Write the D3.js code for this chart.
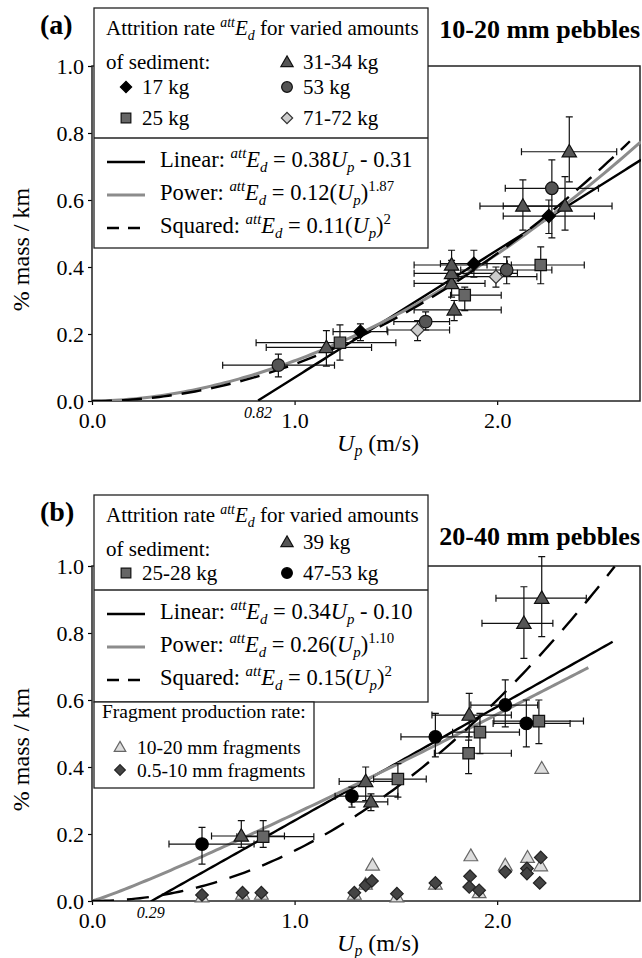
<!DOCTYPE html>
<html>
<head>
<meta charset="utf-8">
<script src="https://cdn.jsdelivr.net/npm/d3@7"></script>
<style>
  html, body { margin: 0; padding: 0; background: #fff; }
  svg, svg text { font-family: "Liberation Serif", "DejaVu Serif", "Noto Serif", "Times New Roman", Times, serif; }
  text { white-space: pre; }
</style>
</head>
<body>
<div id="chart"></div>
<script>
// ---- data: u = Up (m/s), e = %mass/km, with error ranges ----
// panel (a) 10-20 mm pebbles
const a17kg = [
  { u: 1.325, e: 0.207, u0: 1.19, u1: 1.46, e0: 0.18, e1: 0.23 },
  { u: 1.885, e: 0.410, u0: 1.72, u1: 2.05, e0: 0.37, e1: 0.45 },
  { u: 2.255, e: 0.552, u0: 2.03, u1: 2.48, e0: 0.50, e1: 0.60 }
];
const a25kg = [
  { u: 1.224, e: 0.174, u0: 0.81, u1: 1.50, e0: 0.122, e1: 0.227 },
  { u: 1.840, e: 0.316, u0: 1.77, u1: 2.02, e0: 0.27, e1: 0.34 },
  { u: 2.215, e: 0.406, u0: 2.07, u1: 2.43, e0: 0.35, e1: 0.46 }
];
const a31kg = [
  { u: 1.157, e: 0.160, u0: 0.86, u1: 1.38, e0: 0.104, e1: 0.21 },
  { u: 1.788, e: 0.272, u0: 1.59, u1: 2.02, e0: 0.24, e1: 0.30 },
  { u: 1.775, e: 0.351, u0: 1.59, u1: 1.94, e0: 0.31, e1: 0.39 },
  { u: 1.775, e: 0.381, u0: 1.59, u1: 2.10, e0: 0.34, e1: 0.42 },
  { u: 1.775, e: 0.406, u0: 1.59, u1: 1.95, e0: 0.37, e1: 0.45 },
  { u: 2.127, e: 0.582, u0: 1.915, u1: 2.34, e0: 0.51, e1: 0.66 },
  { u: 2.335, e: 0.582, u0: 2.03, u1: 2.567, e0: 0.51, e1: 0.67 },
  { u: 2.356, e: 0.744, u0: 2.12, u1: 2.59, e0: 0.654, e1: 0.848 }
];
const a53kg = [
  { u: 0.920, e: 0.107, u0: 0.645, u1: 1.197, e0: 0.072, e1: 0.14 },
  { u: 1.647, e: 0.237, u0: 1.49, u1: 1.765, e0: 0.212, e1: 0.266 },
  { u: 2.047, e: 0.391, u0: 1.82, u1: 2.27, e0: 0.35, e1: 0.43 },
  { u: 2.270, e: 0.635, u0: 2.04, u1: 2.50, e0: 0.487, e1: 0.72 }
];
const a71kg = [
  { u: 1.607, e: 0.212, u0: 1.456, u1: 1.765, e0: 0.18, e1: 0.24 },
  { u: 1.994, e: 0.371, u0: 1.757, u1: 2.196, e0: 0.34, e1: 0.40 }
];
// panel (b) 20-40 mm pebbles
const b25kg = [
  { u: 0.845, e: 0.192, u0: 0.715, u1: 1.095, e0: 0.16, e1: 0.24 },
  { u: 1.510, e: 0.364, u0: 1.39, u1: 1.65, e0: 0.31, e1: 0.41 },
  { u: 1.859, e: 0.441, u0: 1.69, u1: 2.07, e0: 0.38, e1: 0.48 },
  { u: 1.915, e: 0.504, u0: 1.78, u1: 2.11, e0: 0.44, e1: 0.56 },
  { u: 2.206, e: 0.537, u0: 1.984, u1: 2.426, e0: 0.47, e1: 0.60 }
];
const b39kg = [
  { u: 0.737, e: 0.194, u0: 0.59, u1: 0.95, e0: 0.16, e1: 0.24 },
  { u: 1.351, e: 0.357, u0: 1.22, u1: 1.50, e0: 0.30, e1: 0.40 },
  { u: 1.377, e: 0.296, u0: 1.28, u1: 1.46, e0: 0.27, e1: 0.32 },
  { u: 1.862, e: 0.555, u0: 1.678, u1: 2.07, e0: 0.49, e1: 0.62 },
  { u: 2.132, e: 0.829, u0: 1.925, u1: 2.275, e0: 0.724, e1: 0.938 },
  { u: 2.220, e: 0.904, u0: 1.994, u1: 2.44, e0: 0.789, e1: 1.028 }
];
const b47kg = [
  { u: 0.543, e: 0.170, u0: 0.38, u1: 0.80, e0: 0.11, e1: 0.22 },
  { u: 1.283, e: 0.313, u0: 1.20, u1: 1.51, e0: 0.28, e1: 0.34 },
  { u: 1.695, e: 0.490, u0: 1.525, u1: 1.86, e0: 0.43, e1: 0.56 },
  { u: 2.040, e: 0.585, u0: 1.87, u1: 2.20, e0: 0.52, e1: 0.66 },
  { u: 2.144, e: 0.530, u0: 1.98, u1: 2.36, e0: 0.46, e1: 0.60 }
];
const bFrag1020 = [
  [0.543, 0.012], [0.743, 0.02], [0.836, 0.02], [1.295, 0.02], [1.35, 0.05],
  [1.385, 0.107], [1.505, 0.012], [1.695, 0.05], [1.87, 0.135], [1.911, 0.025],
  [2.04, 0.107], [2.15, 0.13], [2.215, 0.105], [2.22, 0.396]
];
const bFrag0510 = [
  [0.543, 0.018], [0.743, 0.025], [0.836, 0.025], [1.295, 0.025], [1.351, 0.047],
  [1.382, 0.06], [1.505, 0.022], [1.695, 0.054], [1.866, 0.074], [1.862, 0.042],
  [1.911, 0.032], [2.04, 0.087], [2.147, 0.097], [2.147, 0.082], [2.215, 0.13], [2.21, 0.054]
];
// fitted curves (coefficients from the legends): E = k * U^p + c over [from, to]
const aFits = [
  { name: "Linear", k: 0.38, p: 1, c: -0.31, from: 0.82, to: 2.71 },
  { name: "Power", k: 0.12, p: 1.87, c: 0, from: 0, to: 2.71 },
  { name: "Squared", k: 0.11, p: 2, c: 0, from: 0, to: 2.655 }
];
const bFits = [
  { name: "Linear", k: 0.34, p: 1, c: -0.10, from: 0.29, to: 2.57 },
  { name: "Power", k: 0.26, p: 1.10, c: 0, from: 0, to: 2.45 },
  { name: "Squared", k: 0.15, p: 2, c: 0, from: 0, to: 2.58 }
];
const yTicks = [0, 0.2, 0.4, 0.6, 0.8, 1.0];
const xTicks = [0, 1, 2];

// ---- drawing ----
const W = 642, H = 958;
const FONT = "'Liberation Serif', 'DejaVu Serif', 'Times New Roman', serif";
const svg = d3.select("#chart").append("svg").attr("width", W).attr("height", H)
  .attr("font-family", FONT);

const x = d3.scaleLinear().domain([0, 2.71]).range([92, 641]);

const sym = {
  tri: d3.symbol().type(d3.symbolTriangle).size(90),
  sq: d3.symbol().type(d3.symbolSquare).size(130),
  circ: d3.symbol().type(d3.symbolCircle).size(125),
  dia: d3.symbol().type(d3.symbolSquare).size(88)
};
const styles = {
  d17: { s: "dia", fill: "#000", stroke: "#000" },
  sq: { s: "sq", fill: "#666", stroke: "#111" },
  tri: { s: "tri", fill: "#555", stroke: "#111" },
  c53: { s: "circ", fill: "#555", stroke: "#111" },
  c47: { s: "circ", fill: "#000", stroke: "#000" },
  d71: { s: "dia", fill: "#ccc", stroke: "#333" },
  fTri: { s: "tri", fill: "#ddd", stroke: "#666" },
  fDia: { s: "dia", fill: "#444", stroke: "#222" }
};

function marker(g, cx, cy, st, scale) {
  const gen = sym[st.s];
  const k = scale || 1;
  const rot = st.s === "dia" ? " rotate(45)" : "";
  const dy = st.s === "tri" ? 1 : 0;
  g.append("path")
    .attr("d", gen())
    .attr("transform", `translate(${cx},${cy + dy}) scale(${k})${rot}`)
    .attr("fill", st.fill)
    .attr("stroke", st.stroke)
    .attr("stroke-width", 1.2 / k);
}

// text with italic / super / subscript parts
function rich(g, tx, ty, parts, size, extra) {
  const t = g.append("text").attr("x", tx).attr("y", ty).attr("font-size", size)
    .attr("font-family", FONT);
  if (extra) extra(t);
  let shift = 0;
  parts.forEach((p) => {
    const target = p.s === "sup" ? -0.38 * size : p.s === "sub" ? 0.22 * size : 0;
    t.append("tspan")
      .attr("dy", target - shift)
      .attr("font-style", p.i ? "italic" : null)
      .attr("font-size", p.s ? size * 0.66 : null)
      .text(p.t);
    shift = target;
  });
  return t;
}
const attE = [{ t: "att", i: 1, s: "sup" }, { t: "E", i: 1 }, { t: "d", i: 1, s: "sub" }];
const Up = [{ t: "U", i: 1 }, { t: "p", i: 1, s: "sub" }];

function panel(cfg) {
  const g = svg.append("g");
  const y = d3.scaleLinear().domain([0, 1]).range([cfg.bottom, cfg.top]);

  // axes
  const ya = g.append("g").attr("transform", `translate(${x(0)},0)`)
    .call(d3.axisLeft(y).tickValues(yTicks).tickFormat(d3.format(".1f")).tickSize(4).tickPadding(4));
  const xa = g.append("g").attr("transform", `translate(0,${cfg.bottom})`)
    .call(d3.axisBottom(x).tickValues(xTicks).tickFormat(d3.format(".1f")).tickSize(4).tickPadding(6));
  [ya, xa].forEach((a) => {
    a.attr("font-family", FONT).attr("font-size", 22);
    a.select(".domain").remove();
    a.selectAll("text").attr("fill", "#000");
    a.selectAll("line").attr("stroke", "#000").attr("stroke-width", 1.2);
  });
  xa.selectAll("text").attr("dy", "0.78em");

  g.append("rect")
    .attr("x", x(0)).attr("y", y(1))
    .attr("width", x(2.71) - x(0) - 1).attr("height", y(0) - y(1))
    .attr("fill", "none").attr("stroke", "#222").attr("stroke-width", 1.5);

  // intercept label
  g.append("text").attr("x", x(cfg.icpt)).attr("y", cfg.bottom + 17)
    .attr("text-anchor", "middle").attr("font-size", 16).attr("font-style", "italic")
    .text(cfg.icpt.toFixed(2));

  // axis titles
  rich(g, 0, 0, [{ t: "U", i: 1 }, { t: "p", i: 1, s: "sub" }, { t: " (m/s)" }], 24,
    (t) => t.attr("text-anchor", "middle").attr("transform", `translate(378,${cfg.bottom + 50})`));
  g.append("text")
    .attr("transform", `translate(29,${(cfg.top + cfg.bottom) / 2 + 16}) rotate(-90)`)
    .attr("text-anchor", "middle").attr("font-size", 24).text("% mass / km");

  // fit curves
  const line = d3.line().x((d) => x(d[0])).y((d) => y(d[1]));
  const fitStyle = {
    Linear: { c: "#000", w: 2.4, dash: null },
    Power: { c: "#8c8c8c", w: 3, dash: null },
    Squared: { c: "#000", w: 2.4, dash: cfg.dash }
  };
  const clip = "clip" + cfg.id;
  g.append("clipPath").attr("id", clip).append("rect")
    .attr("x", x(0)).attr("y", y(1)).attr("width", x(2.71) - x(0)).attr("height", y(0) - y(1));
  const fitG = g.append("g").attr("clip-path", `url(#${clip})`);
  cfg.fits.forEach((f) => {
    const pts = d3.range(0, 121).map((i) => {
      const u = f.from + (f.to - f.from) * i / 120;
      return [u, f.k * Math.pow(u, f.p) + f.c];
    });
    const s = fitStyle[f.name];
    fitG.append("path").attr("d", line(pts)).attr("fill", "none")
      .attr("stroke", s.c).attr("stroke-width", s.w).attr("stroke-dasharray", s.dash);
  });

  // fragment points (no error bars)
  (cfg.frags || []).forEach((fs) => {
    fs.data.forEach((d) => marker(g, x(d[0]), y(d[1]), styles[fs.st], 0.95));
  });

  // error bars then points
  const eb = g.append("g").attr("stroke", "#111").attr("stroke-width", 1.2).attr("fill", "none");
  cfg.series.forEach((s) => {
    s.data.forEach((d) => {
      const cx = x(d.u), cy = y(d.e);
      eb.append("path").attr("d",
        `M${x(d.u0)},${cy}H${x(d.u1)}M${x(d.u0)},${cy - 3.5}V${cy + 3.5}M${x(d.u1)},${cy - 3.5}V${cy + 3.5}` +
        `M${cx},${y(d.e0)}V${y(d.e1)}M${cx - 3.5},${y(d.e0)}H${cx + 3.5}M${cx - 3.5},${y(d.e1)}H${cx + 3.5}`);
    });
  });
  cfg.series.forEach((s) => {
    s.data.forEach((d) => marker(g, x(d.u), y(d.e), styles[s.st]));
  });

  // panel label and title
  g.append("text").attr("x", 40).attr("y", cfg.labY).attr("font-size", 28)
    .attr("font-weight", "bold").text(cfg.label);
  g.append("text").attr("x", 640).attr("y", cfg.titleY).attr("text-anchor", "end")
    .attr("font-size", 26).attr("font-weight", "bold").text(cfg.title);

  // legend: markers
  const L = cfg.leg;
  const lg = g.append("g");
  lg.append("rect").attr("x", 94).attr("y", L.top).attr("width", 334).attr("height", L.bottom - L.top)
    .attr("fill", "#fff").attr("stroke", "#222").attr("stroke-width", 1.3);
  lg.append("line").attr("x1", 94).attr("x2", 428).attr("y1", L.div).attr("y2", L.div)
    .attr("stroke", "#222").attr("stroke-width", 1.3);
  rich(lg, 106, L.top + 27, [{ t: "Attrition rate " }, ...attE, { t: " for varied amounts" }], 21);
  lg.append("text").attr("x", 106).attr("y", L.top + 61).attr("font-size", 21).text("of sediment:");
  L.items.forEach((it) => {
    marker(lg, it.mx, it.my, styles[it.st], 0.85);
    lg.append("text").attr("x", it.mx + 16).attr("y", it.my + 7).attr("font-size", 21).text(it.text);
  });
  // legend: fits
  cfg.fits.forEach((f, i) => {
    const ly = L.div + 24 + i * 33;
    const s = fitStyle[f.name];
    lg.append("line").attr("x1", 107).attr("x2", 145).attr("y1", ly).attr("y2", ly)
      .attr("stroke", s.c).attr("stroke-width", s.w).attr("stroke-dasharray", f.name === "Squared" ? "12,9" : null);
    let parts;
    if (f.name === "Linear") {
      parts = [{ t: "Linear: " }, ...attE, { t: " = " + f.k.toFixed(2) }, ...Up,
        { t: (f.c < 0 ? " - " : " + ") + Math.abs(f.c).toFixed(2) }];
    } else {
      parts = [{ t: f.name + ": " }, ...attE, { t: " = " + f.k.toFixed(2) + "(" }, ...Up, { t: ")" },
        { t: f.name === "Power" ? f.p.toFixed(2) : "2", s: "sup" }];
    }
    rich(lg, 160, ly + 5, parts, 22.5);
  });

  // fragment legend
  if (cfg.fragLeg) {
    const F = cfg.fragLeg;
    lg.append("rect").attr("x", 94).attr("y", F.top).attr("width", 220).attr("height", F.bottom - F.top)
      .attr("fill", "#fff").attr("stroke", "#222").attr("stroke-width", 1.3);
    lg.append("text").attr("x", 102).attr("y", F.top + 16).attr("font-size", 19.5).text("Fragment production rate:");
    F.items.forEach((it, i) => {
      const my = F.top + 45 + i * 23;
      marker(lg, 120, my, styles[it.st], 0.8);
      lg.append("text").attr("x", 137).attr("y", my + 7).attr("font-size", 19.5).text(it.text);
    });
  }
}

panel({
  id: "a", top: 66, bottom: 401, icpt: 0.82, dash: "20,10",
  label: "(a)", labY: 34, title: "10-20 mm pebbles", titleY: 38,
  fits: aFits,
  series: [
    { st: "sq", data: a25kg }, { st: "c53", data: a53kg }, { st: "tri", data: a31kg },
    { st: "d17", data: a17kg }, { st: "d71", data: a71kg }
  ],
  leg: {
    top: 8, div: 138, bottom: 248,
    items: [
      { st: "tri", text: "31-34 kg", mx: 287, my: 62 },
      { st: "d17", text: "17 kg", mx: 126, my: 87 },
      { st: "c53", text: "53 kg", mx: 287, my: 87 },
      { st: "sq", text: "25 kg", mx: 126, my: 118 },
      { st: "d71", text: "71-72 kg", mx: 287, my: 118 }
    ]
  }
});

panel({
  id: "b", top: 566, bottom: 901, icpt: 0.29, dash: "22,13",
  label: "(b)", labY: 521, title: "20-40 mm pebbles", titleY: 545,
  fits: bFits,
  frags: [{ st: "fTri", data: bFrag1020 }, { st: "fDia", data: bFrag0510 }],
  series: [
    { st: "sq", data: b25kg }, { st: "tri", data: b39kg }, { st: "c47", data: b47kg }
  ],
  leg: {
    top: 495, div: 590, bottom: 702,
    items: [
      { st: "tri", text: "39 kg", mx: 287, my: 542 },
      { st: "sq", text: "25-28 kg", mx: 126, my: 573 },
      { st: "c47", text: "47-53 kg", mx: 287, my: 573 }
    ]
  },
  fragLeg: {
    top: 702, bottom: 788,
    items: [{ st: "fTri", text: "10-20 mm fragments" }, { st: "fDia", text: "0.5-10 mm fragments" }]
  }
});
</script>
</body>
</html>
